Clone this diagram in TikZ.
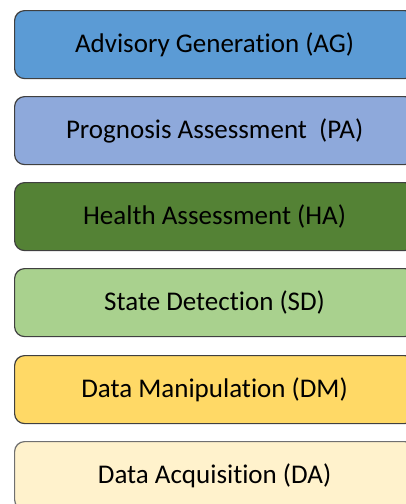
\documentclass[tikz,border=0pt]{standalone}
\usepackage{fontspec}
\setmainfont{Carlito}[Ligatures={NoCommon}]
\definecolor{cAG}{HTML}{5B9BD5}
\definecolor{cPA}{HTML}{8EA9DB}
\definecolor{cHA}{HTML}{548235}
\definecolor{cSD}{HTML}{A9D18E}
\definecolor{cDM}{HTML}{FFD966}
\definecolor{cDA}{HTML}{FFF2CC}
\definecolor{edge}{HTML}{404040}
\tikzset{
  layer/.style={draw=edge, line width=1.2pt, rounded corners=10pt,
    minimum width=400pt, minimum height=68pt, inner sep=0pt,
    font=\fontsize{27}{30}\selectfont, text=black, anchor=north west}
}
\begin{document}
\begin{tikzpicture}[x=1pt,y=-1pt]
\useasboundingbox (0,0) rectangle (406,504);
\clip (0,0) rectangle (406,504);
\node[layer, fill=cAG] (ag) at (14,10) {Advisory Generation (AG)};
\node[layer, fill=cPA] (pa) at (14,96) {Prognosis Assessment\ \ (PA)};
\node[layer, fill=cHA] (ha) at (14,182) {Health Assessment (HA)};
\node[layer, fill=cSD] (sd) at (14,268) {State Detection (SD)};
\node[layer, fill=cDM] (dm) at (14,355) {Data Manipulation (DM)};
\node[layer, fill=cDA, draw=edge!75] (da) at (14,441) {Data Acquisition (DA)};
\end{tikzpicture}
\end{document}
